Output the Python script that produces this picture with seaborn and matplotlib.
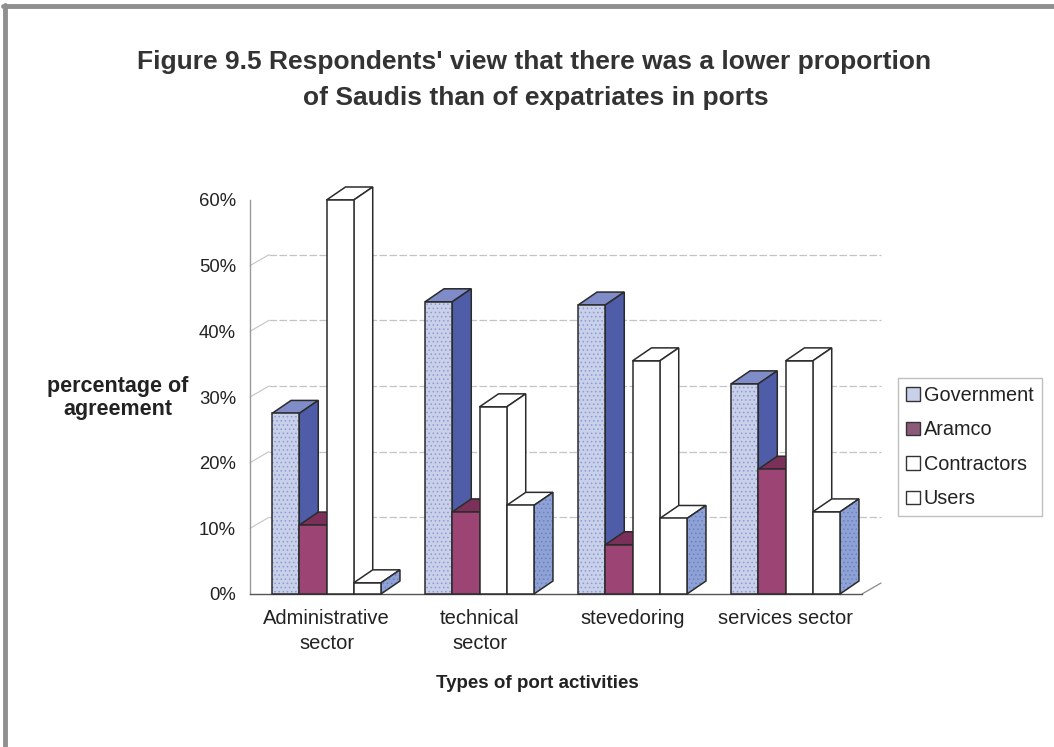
import numpy as np
import pandas as pd
import matplotlib
matplotlib.use("Agg")
import matplotlib.pyplot as plt
import seaborn as sns
from matplotlib.patches import Polygon, Rectangle, Patch
from matplotlib.lines import Line2D

# ---- data -------------------------------------------------------------
categories = ["Administrative\nsector", "technical\nsector", "stevedoring", "services sector"]
series = ["Government", "Aramco", "Contractors", "Users"]
government = [0.275, 0.445, 0.44, 0.32]
aramco = [0.105, 0.125, 0.075, 0.19]
contractors = [0.60, 0.285, 0.355, 0.355]
users = [0.017, 0.135, 0.115, 0.125]
y_ticks = [0.0, 0.1, 0.2, 0.3, 0.4, 0.5, 0.6]
y_tick_labels = ["0%", "10%", "20%", "30%", "40%", "50%", "60%"]

# ---- styling ----------------------------------------------------------
front_colors = ["#c8d0ea", "#9c4574", "#ffffff", "#ffffff"]
side_colors = ["#4f5ca8", "#7a3058", "#ffffff", "#8fa2d6"]
top_colors = ["#7f8cc8", "#7a3058", "#ffffff", "#ffffff"]
front_hatch = ["....", None, None, None]
side_hatch = [None, None, None, "...."]
hatch_colors = ["#8e9bd0", None, None, "#6a80c4"]
edge = "#2b2b2b"
edge_lw = 1.1

sns.set_theme(style="white")
plt.rcParams["font.family"] = ["Liberation Sans", "DejaVu Sans"]
plt.rcParams["hatch.linewidth"] = 0.6

W, H = 1054, 747
fig = plt.figure(figsize=(W / 100, H / 100), dpi=100)
fig.patch.set_facecolor("white")
ax = fig.add_axes([250 / W, 153 / H, 612 / W, 394 / H])
ax.set_facecolor("none")

df = pd.DataFrame({
    "activity": categories * len(series),
    "respondent": np.repeat(series, len(categories)),
    "share": government + aramco + contractors + users,
})

sns.barplot(data=df, x="activity", y="share", hue="respondent",
            order=categories, hue_order=series, palette=front_colors,
            saturation=1, width=0.712, gap=0, linewidth=0,
            errorbar=None, legend=False, ax=ax)

ax.set_xlim(-0.5, 3.5)
ax.set_ylim(0, 0.6)

# depth of the pseudo-3D extrusion, in data units
px_x = 612 / 4.0
px_y = 394 / 0.6
bar_dx, bar_dy = 19 / px_x, 13 / px_y
wall_dx, wall_dy = 19 / px_x, 11 / px_y


def face(verts, fc, hatch=None, hcolor=None, z=2):
    if hatch:
        ax.add_patch(Polygon(verts, closed=True, facecolor=fc, edgecolor=hcolor,
                             hatch=hatch, linewidth=0, zorder=z, clip_on=False))
        ax.add_patch(Polygon(verts, closed=True, fill=False, edgecolor=edge,
                             linewidth=edge_lw, zorder=z + 0.0001, clip_on=False))
    else:
        ax.add_patch(Polygon(verts, closed=True, facecolor=fc, edgecolor=edge,
                             linewidth=edge_lw, zorder=z, clip_on=False))


bars = []
for s_idx, cont in enumerate(ax.containers):
    for p in cont.patches:
        bars.append((p, s_idx))
bars.sort(key=lambda b: b[0].get_x())

for k, (p, s) in enumerate(bars):
    x0, w, h = p.get_x(), p.get_width(), p.get_height()
    z = 3 + k * 0.01
    face([(x0, h), (x0 + w, h), (x0 + w + bar_dx, h + bar_dy), (x0 + bar_dx, h + bar_dy)],
         top_colors[s], z=z)
    face([(x0 + w, 0), (x0 + w + bar_dx, bar_dy), (x0 + w + bar_dx, h + bar_dy), (x0 + w, h)],
         side_colors[s], side_hatch[s], hatch_colors[s], z=z + 0.001)
    p.set_zorder(z + 0.005)
    p.set_clip_on(False)
    if front_hatch[s]:
        p.set_hatch(front_hatch[s])
        p.set_edgecolor(hatch_colors[s])
    ax.add_patch(Rectangle((x0, 0), w, h, fill=False, edgecolor=edge,
                           linewidth=edge_lw, zorder=z + 0.006, clip_on=False))

# back wall gridlines and the left wall / floor edges
grid_c = "#c4c4c4"
for t in y_ticks[1:-1]:
    ax.plot([-0.5 + wall_dx, 3.5 + wall_dx], [t + wall_dy, t + wall_dy], color=grid_c,
            lw=0.9, ls=(0, (6, 2)), zorder=1, clip_on=False)
    ax.plot([-0.5, -0.5 + wall_dx], [t, t + wall_dy], color=grid_c, lw=0.8,
            zorder=1, clip_on=False)
ax.plot([3.5, 3.5 + wall_dx], [0, wall_dy], color="#888888", lw=0.9, zorder=1, clip_on=False)

for side in ["top", "right"]:
    ax.spines[side].set_visible(False)
ax.spines["left"].set_color("#9a9a9a")
ax.spines["left"].set_linewidth(1.0)
ax.spines["bottom"].set_color("#555555")
ax.spines["bottom"].set_linewidth(1.0)

ax.set_yticks(y_ticks)
ax.set_yticklabels(y_tick_labels)
ax.tick_params(axis="y", length=0, pad=10, labelsize=13.3, labelcolor="#222222")
ax.tick_params(axis="x", length=0, pad=11, labelsize=14.5, labelcolor="#222222")
for lbl in ax.get_xticklabels():
    lbl.set_linespacing(1.35)
ax.set_xlabel("")
ax.set_ylabel("")

# titles and axis captions
fig.text(534 / W, 1 - 62 / H, "Figure 9.5 Respondents' view that there was a lower proportion",
         ha="center", va="center", fontsize=19, fontweight="bold", color="#333333")
fig.text(536 / W, 1 - 98 / H, "of Saudis than of expatriates in ports",
         ha="center", va="center", fontsize=19, fontweight="bold", color="#333333")
fig.text(118 / W, 1 - 398 / H, "percentage of\nagreement", ha="center", va="center",
         fontsize=15.5, fontweight="bold", linespacing=1.1, color="#222222")
fig.text(537 / W, 1 - 684 / H, "Types of port activities", ha="center", va="center",
         fontsize=13.5, fontweight="bold", color="#222222")

# legend
legend_fc = ["#c8d0ea", "#8a5a78", "#ffffff", "#ffffff"]
handles = [Patch(facecolor=c, edgecolor="#333333", linewidth=1.0) for c in legend_fc]
leg = ax.legend(handles, series, loc="upper left", bbox_to_anchor=(898 / W, 1 - 378 / H),
                bbox_transform=fig.transFigure, fontsize=14.3, frameon=True,
                fancybox=False, edgecolor="#b0b0b0", handlelength=0.7, handleheight=0.7,
                handletextpad=0.2, labelspacing=0.78, borderpad=0.4, borderaxespad=0)
leg.get_frame().set_linewidth(1.0)
for txt in leg.get_texts():
    txt.set_color("#222222")

# page frame on the left and top edges
fig.add_artist(Line2D([5 / W, 5 / W], [0, 1 - 5 / H], color="#8f8f8f", lw=3.5,
                      transform=fig.transFigure))
fig.add_artist(Line2D([3 / W, 1], [1 - 6 / H, 1 - 6 / H], color="#8f8f8f", lw=3.5,
                      transform=fig.transFigure))

fig.savefig("out.png", dpi=100)
